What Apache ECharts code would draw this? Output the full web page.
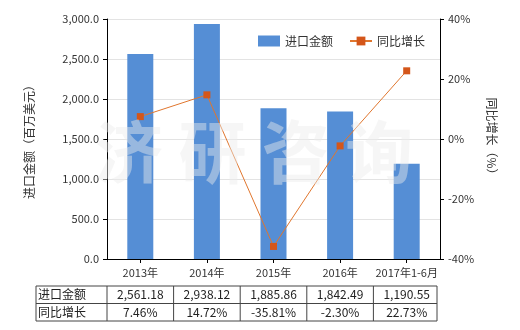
<!DOCTYPE html>
<html><head><meta charset="utf-8">
<script src="https://cdn.jsdelivr.net/npm/echarts@6/dist/echarts.min.js"></script>
<style>html,body{margin:0;padding:0;background:#fff}#c{width:520px;height:330px}</style>
</head><body><div id="c"></div>
<script>
const categories = ['2013年','2014年','2015年','2016年','2017年1-6月'];
const importValues = [2561.18, 2938.12, 1885.86, 1842.49, 1190.55];
const growthValues = [7.46, 14.72, -35.81, -2.30, 22.73];
const seriesNames = ['进口金额','同比增长'];
const leftTicks = {min:0, max:3000, interval:500};
const rightTicks = {min:-40, max:40, interval:20};

const FONT = '"Noto Sans CJK SC","Noto Sans",sans-serif';
const gridL = 107, gridR = 440, gridT = 19, gridB = 259;
const fmtNum = v => v.toLocaleString('en-US',{minimumFractionDigits:2,maximumFractionDigits:2});
const chart = echarts.init(document.getElementById('c'), null, {renderer:'canvas'});

const option = {
  animation:false,
  textStyle:{fontFamily:FONT},
  grid:{left:gridL, right:520-gridR, top:gridT, bottom:330-gridB},
  legend:{
    left:253, top:30, itemWidth:22, itemHeight:11, itemGap:16,
    textStyle:{fontSize:12, color:'#333', fontFamily:FONT},
    data:[{name:seriesNames[0], icon:'rect'},{name:seriesNames[1]}]
  },
  xAxis:{
    type:'category', data:categories,
    axisLine:{lineStyle:{color:'#000'}},
    axisTick:{show:true, alignWithLabel:true, length:4, lineStyle:{color:'#000'}},
    axisLabel:{fontSize:11, color:'#333', margin:8, interval:0, fontFamily:FONT}
  },
  yAxis:[{
    type:'value', min:leftTicks.min, max:leftTicks.max, interval:leftTicks.interval,
    name:'进口金额（百万美元）', nameLocation:'middle', nameGap:72, nameRotate:90,
    nameTextStyle:{fontSize:12, color:'#333', fontFamily:FONT},
    axisLine:{show:true, lineStyle:{color:'#000'}},
    axisTick:{show:true, length:4, lineStyle:{color:'#000'}},
    axisLabel:{fontSize:11, color:'#333', formatter:v=>v.toLocaleString('en-US',{minimumFractionDigits:1,maximumFractionDigits:1})},
    splitLine:{lineStyle:{color:'#e3e3e3'}}
  },{
    type:'value', min:rightTicks.min, max:rightTicks.max, interval:rightTicks.interval,
    name:'同比增长（%）', nameLocation:'middle', nameGap:46, nameRotate:-90,
    nameTextStyle:{fontSize:12, color:'#333', fontFamily:FONT},
    axisLine:{show:true, lineStyle:{color:'#000'}},
    axisTick:{show:true, length:4, lineStyle:{color:'#000'}},
    axisLabel:{fontSize:11, color:'#333', formatter:'{value}%'},
    splitLine:{show:false}
  }],
  series:[{
    name:seriesNames[0], type:'bar', data:importValues, barWidth:26,
    itemStyle:{color:'#558ED5'}
  },{
    name:seriesNames[1], type:'line', yAxisIndex:1, data:growthValues,
    symbol:'rect', symbolSize:7,
    lineStyle:{color:'#E0762E', width:1},
    itemStyle:{color:'#D4561A'}
  }]
};
chart.setOption(option);

// watermark + table
const g = [];
g.push({type:'text', left:95, top:118, z:100, silent:true,
  style:{text:'济 研 咨 询', fontSize:68, fontWeight:'bold', fontFamily:FONT,
    fill:'rgba(235,235,235,0.45)'}});
const bw = (gridR - gridL)/categories.length;
const tL = 36, tR = gridL + bw*categories.length - 3;
const rows = [286, 303.5, 321];
const lineStyle = {stroke:'#444', lineWidth:1};
rows.forEach(y=>g.push({type:'line', shape:{x1:tL,y1:y,x2:tR,y2:y}, style:lineStyle}));
const cols = [tL, gridL];
for(let i=1;i<=categories.length;i++) cols.push(i===categories.length? tR : gridL + bw*i);
cols.forEach(x=>g.push({type:'line', shape:{x1:x,y1:rows[0],x2:x,y2:rows[2]}, style:lineStyle}));
const rowData = [[seriesNames[0], importValues.map(fmtNum)], [seriesNames[1], growthValues.map(v=>v.toFixed(2)+'%')]];
rowData.forEach((r,ri)=>{
  const yc = (rows[ri]+rows[ri+1])/2;
  g.push({type:'text', x:tL+2, y:yc, style:{text:r[0], fontSize:12, fontFamily:FONT, fill:'#222', textVerticalAlign:'middle', verticalAlign:'middle'}});
  r[1].forEach((t,i)=>{
    const xc = chart.convertToPixel({xAxisIndex:0}, categories[i]);
    g.push({type:'text', x:xc, y:yc, style:{text:t, fontSize:12, fontFamily:FONT, fill:'#222', align:'center', textAlign:'center', verticalAlign:'middle', textVerticalAlign:'middle'}});
  });
});
chart.setOption({graphic:g});
</script></body></html>
